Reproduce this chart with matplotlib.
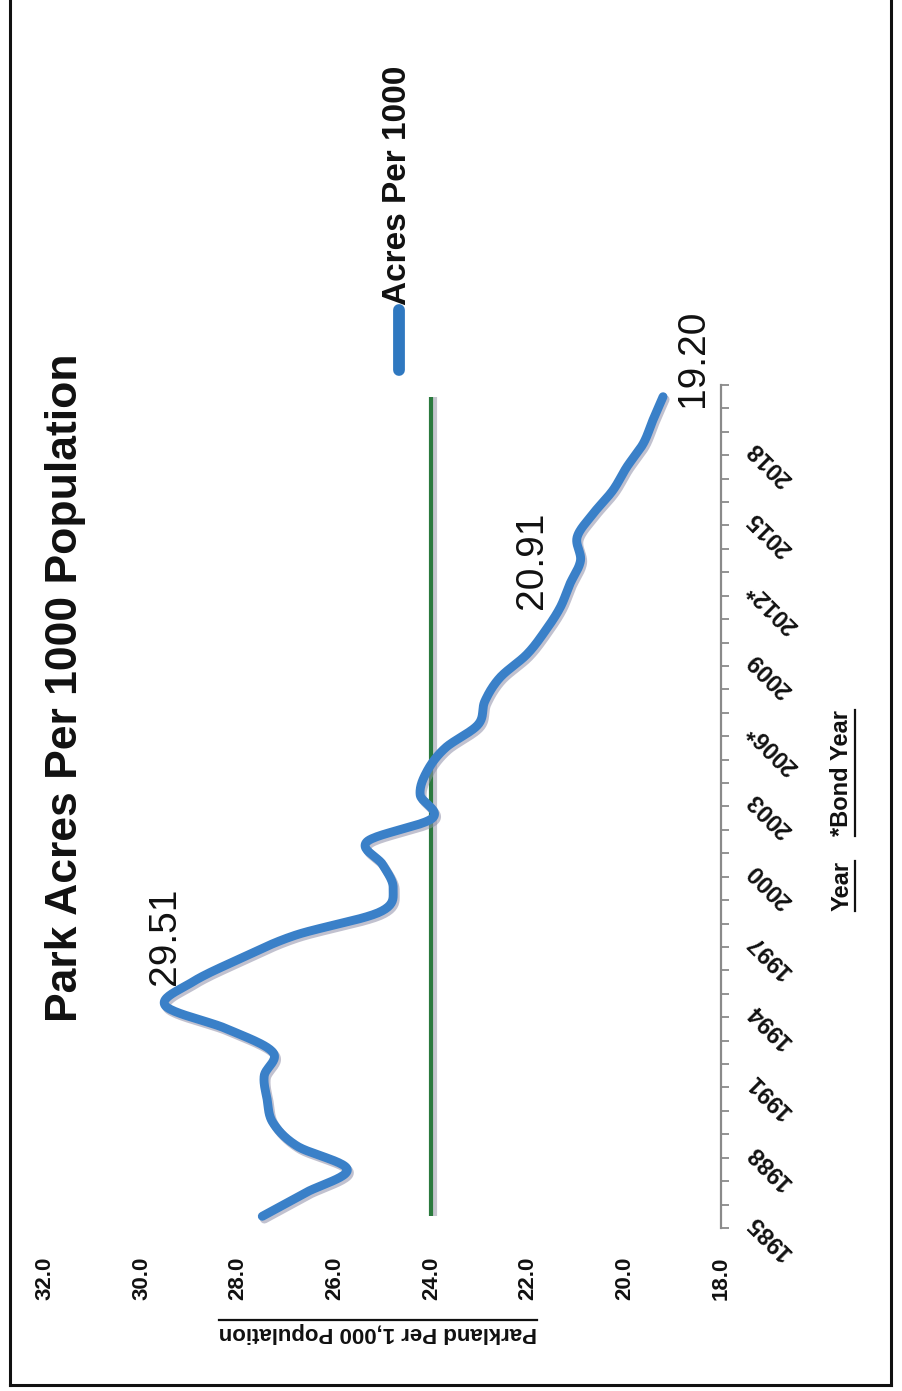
import numpy as np
import matplotlib
matplotlib.use("Agg")
import matplotlib.pyplot as plt
import matplotlib.patheffects as pe
import matplotlib.transforms as mtrans
from matplotlib.lines import Line2D

plt.rcParams['font.family'] = ['Liberation Sans', 'DejaVu Sans']

# ---------------- data ----------------
years = [1985, 1986, 1987, 1988, 1989, 1990, 1991, 1992, 1993, 1994,
         1995, 1996, 1997, 1998, 1999, 2000, 2001, 2002, 2003, 2004,
         2005, 2006, 2007, 2008, 2009, 2010, 2011, 2012, 2013, 2014,
         2015, 2016, 2017, 2018, 2019, 2020]
acres_per_1000 = [27.50, 26.61, 25.74, 26.78, 27.28, 27.40, 27.46, 27.28, 28.23, 29.51,
                  28.95, 27.96, 26.82, 25.06, 24.79, 25.00, 25.33, 23.98, 24.23, 24.09,
                  23.71, 23.03, 22.89, 22.58, 22.02, 21.64, 21.33, 21.13, 20.91, 20.98,
                  20.65, 20.24, 19.95, 19.61, 19.41, 19.20]
target_value = 24.0
year_tick_labels = ['1985', '1988', '1991', '1994', '1997', '2000', '2003',
                    '2006*', '2009', '2012*', '2015', '2018']
value_ticks = [18, 20, 22, 24, 26, 28, 30, 32]
labeled_years = [1994, 2013, 2020]

# ---------------- figure ----------------
W, H = 903, 1391
fig = plt.figure(figsize=(W / 100, H / 100), dpi=100)
fig.patch.set_facecolor('white')

def fx(px):
    return px / W

def fy(py):
    return 1 - py / H

ax_left, ax_right = 45, 721
ax_top, ax_bottom = 385, 1228
ax = fig.add_axes([fx(ax_left), fy(ax_bottom), (ax_right - ax_left) / W, (ax_bottom - ax_top) / H])
ax.set_facecolor('none')

n = len(years)
pos = np.arange(n, dtype=float)
vals = np.array(acres_per_1000, dtype=float)

# Catmull-Rom smoothing (like Excel's smoothed line)
def catmull(xs, ys, steps=24):
    P = np.column_stack([xs, ys])
    P = np.vstack([2 * P[0] - P[1], P, 2 * P[-1] - P[-2]])
    out = []
    for i in range(1, len(P) - 2):
        p0, p1, p2, p3 = P[i - 1], P[i], P[i + 1], P[i + 2]
        t = np.linspace(0, 1, steps, endpoint=False)[:, None]
        pts = 0.5 * ((2 * p1) + (-p0 + p2) * t + (2 * p0 - 5 * p1 + 4 * p2 - p3) * t ** 2
                     + (-p0 + 3 * p1 - 3 * p2 + p3) * t ** 3)
        out.append(pts)
    out.append(P[-2][None, :])
    out = np.vstack(out)
    return out[:, 0], out[:, 1]

sx, sy = catmull(vals, pos)

# target line (green)
ax.plot([target_value, target_value], [pos[0], pos[-1]], color='#2b7a3e', lw=3,
        solid_capstyle='butt',
        path_effects=[pe.SimpleLineShadow(offset=(3, 0), shadow_color='#b8b8c4', alpha=0.8), pe.Normal()],
        zorder=2)

# main line (blue)
ax.plot(sx, sy, color='#3a80c8', lw=6.4, solid_capstyle='round', solid_joinstyle='round',
        path_effects=[pe.SimpleLineShadow(offset=(1.5, -2), shadow_color='#8f8fa8', alpha=0.55), pe.Normal()],
        zorder=3)

ax.set_xlim(32, 18)
ax.set_ylim(-0.5, n - 0.5)

for s in ['top', 'left', 'bottom']:
    ax.spines[s].set_visible(False)
ax.spines['right'].set_color('#8a8a8a')
ax.spines['right'].set_linewidth(1.6)

# ticks: minor tick marks on the right (category boundaries), labels drawn as texts
ax.set_xticks(value_ticks)
ax.tick_params(axis='x', length=0, labelbottom=False)
ax.yaxis.tick_right()
ax.set_yticks([])
ax.set_yticks(np.arange(-0.5, n, 1.0), minor=True)
ax.tick_params(axis='y', which='minor', length=6, width=1.3, color='#8a8a8a', direction='out',
               right=True, left=False, labelright=False)

# value labels (below the axis)
tx_val = mtrans.blended_transform_factory(ax.transData, ax.transAxes)
for v in value_ticks:
    ax.text(v, 0, f'{v:.1f}', transform=tx_val + mtrans.ScaledTranslation(0, -29 / 100, fig.dpi_scale_trans),
            rotation=90, ha='center', va='top', fontsize=16, fontweight='bold', color='#111111',
            clip_on=False)

# year labels (right of the axis)
tx_year = mtrans.blended_transform_factory(ax.transAxes, ax.transData)
for t in year_tick_labels:
    i = years.index(int(t.rstrip('*')))
    ax.text(1, pos[i], t, transform=tx_year + mtrans.ScaledTranslation(30 / 100, -2 / 100, fig.dpi_scale_trans),
            rotation=135, rotation_mode='anchor', ha='right', va='center', fontsize=17,
            fontweight='bold', color='#111111', clip_on=False)

# data labels
offsets = {1994: ((0, 21), 'center', 'bottom'),
           2013: ((-30, 0), 'right', 'center'),
           2020: ((12, -10), 'left', 'bottom')}
for yr in labeled_years:
    i = years.index(yr)
    off, ha, va = offsets[yr]
    ax.annotate(f'{acres_per_1000[i]:.2f}', xy=(acres_per_1000[i], pos[i]), xytext=off,
                textcoords='offset pixels', rotation=90, ha=ha, va=va, fontsize=28,
                color='#111111', zorder=5)

# title
fig.text(fx(66), fy(688), 'Park Acres Per 1000 Population', rotation=90, ha='center', va='center',
         fontsize=32, fontweight='bold', color='#111111')

# legend
fig.add_artist(Line2D([fx(399), fx(399)], [fy(370), fy(310)], color='#2f78c0', lw=8.5,
                      solid_capstyle='round', transform=fig.transFigure))
fig.text(fx(398), fy(305), 'Acres Per 1000', rotation=90, ha='center', va='bottom',
         fontsize=24, fontweight='bold', color='#111111')

# axis titles
t_val = fig.text(fx(378), fy(1333), 'Parkland Per 1,000 Population', rotation=180, ha='center', va='center',
                 fontsize=16, fontweight='bold', color='#111111')
t_year = fig.text(fx(842), fy(886), 'Year', rotation=90, ha='center', va='center',
                  fontsize=17, fontweight='bold', color='#111111')
t_bond = fig.text(fx(842), fy(773), '*Bond Year', rotation=90, ha='center', va='center',
                  fontsize=17, fontweight='bold', color='#111111')

fig.canvas.draw()
renderer = fig.canvas.get_renderer()

def underline(t, side):
    bb = t.get_window_extent(renderer)
    if side == 'top':
        y = bb.y1 + 3
        fig.add_artist(Line2D([bb.x0 / W, bb.x1 / W], [y / H, y / H], color='#111111', lw=1.6,
                              transform=fig.transFigure))
    else:
        x = bb.x1 + 2
        fig.add_artist(Line2D([x / W, x / W], [bb.y0 / H, bb.y1 / H], color='#111111', lw=1.6,
                              transform=fig.transFigure))

underline(t_val, 'top')
underline(t_year, 'right')
underline(t_bond, 'right')

# outer frame
frame_kw = dict(color='#111111', lw=2.2, transform=fig.transFigure, solid_capstyle='projecting')
fig.add_artist(Line2D([fx(10), fx(10)], [fy(0), fy(1385)], **frame_kw))
fig.add_artist(Line2D([fx(891), fx(891)], [fy(0), fy(1385)], **frame_kw))
fig.add_artist(Line2D([fx(10), fx(891)], [fy(1385), fy(1385)], **frame_kw))

fig.savefig('out.png', dpi=100, facecolor='white')
